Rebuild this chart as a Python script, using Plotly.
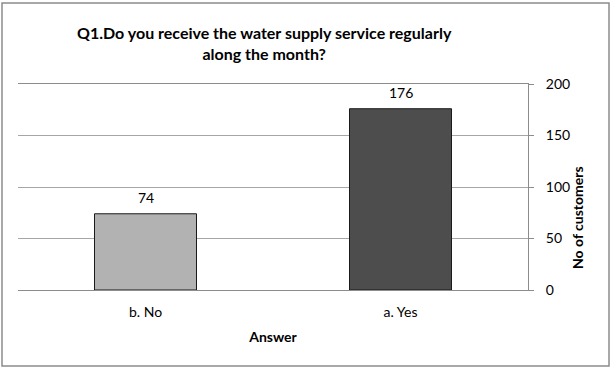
import plotly.graph_objects as go

categories = ["b. No", "a. Yes"]
values = [74, 176]
bar_colors = ["#b2b2b2", "#4d4d4d"]
y_ticks = [0, 50, 100, 150, 200]

FONT = "Lato, 'Open Sans', sans-serif"
W, H = 611, 367
L, R, T, B = 18, 83, 84, 77
PW, PH = W - L - R, H - T - B

fig = go.Figure()
fig.add_trace(go.Bar(
    x=categories, y=values,
    marker=dict(color=bar_colors, line=dict(color="#1a1a1a", width=1)),
    width=0.4,
    hoverinfo="skip",
))

annotations = [
    dict(x=c, y=v, xref="x", yref="y", text=str(v), showarrow=False,
         yanchor="bottom", xanchor="center", yshift=6,
         font=dict(family=FONT, size=14, color="#000000"))
    for c, v in zip(categories, values)
]
annotations.append(dict(
    text="<b>No of customers</b>", textangle=-90,
    xref="paper", yref="paper",
    x=(577 - L) / PW, y=(H - B - 218) / PH,
    xanchor="center", yanchor="middle", showarrow=False,
    font=dict(family=FONT, size=14, color="#000000"),
))
annotations.append(dict(
    text="<b>Q1.Do you receive the water supply service regularly<br>along the month?</b>",
    xref="paper", yref="paper",
    x=(264 - L) / PW, y=(H - B - 43) / PH,
    xanchor="center", yanchor="middle", showarrow=False,
    font=dict(family=FONT, size=16, color="#000000"),
))

fig.update_layout(
    width=W, height=H,
    margin=dict(l=L, r=R, t=T, b=B),
    paper_bgcolor="white", plot_bgcolor="white",
    showlegend=False,
    font=dict(family=FONT, size=14, color="#000000"),
    xaxis=dict(
        showline=True, linecolor="#8c8c8c", linewidth=1, mirror=True,
        ticks="", tickfont=dict(size=14), ticklabelstandoff=9,
        title=dict(text="<b>Answer</b>", font=dict(size=14), standoff=13),
    ),
    yaxis=dict(
        side="right", range=[0, 200], tickvals=y_ticks,
        showgrid=True, gridcolor="#a6a6a6", gridwidth=1,
        showline=True, linecolor="#8c8c8c", linewidth=1,
        ticks="outside", ticklen=5, tickcolor="#8c8c8c",
        tickfont=dict(size=14), ticklabelstandoff=9,
        zeroline=False,
    ),
    annotations=annotations,
    shapes=[dict(
        type="rect", xref="paper", yref="paper",
        x0=(2 - L) / PW, x1=(609 - L) / PW,
        y0=(H - B - 366) / PH, y1=(H - B - 3) / PH,
        line=dict(color="#8c8c8c", width=1.5), fillcolor="rgba(0,0,0,0)", layer="below",
    )],
)

fig.write_html("out.html", config={"displayModeBar": False},
               post_script="document.body.style.margin='0';document.body.style.overflow='hidden';")
